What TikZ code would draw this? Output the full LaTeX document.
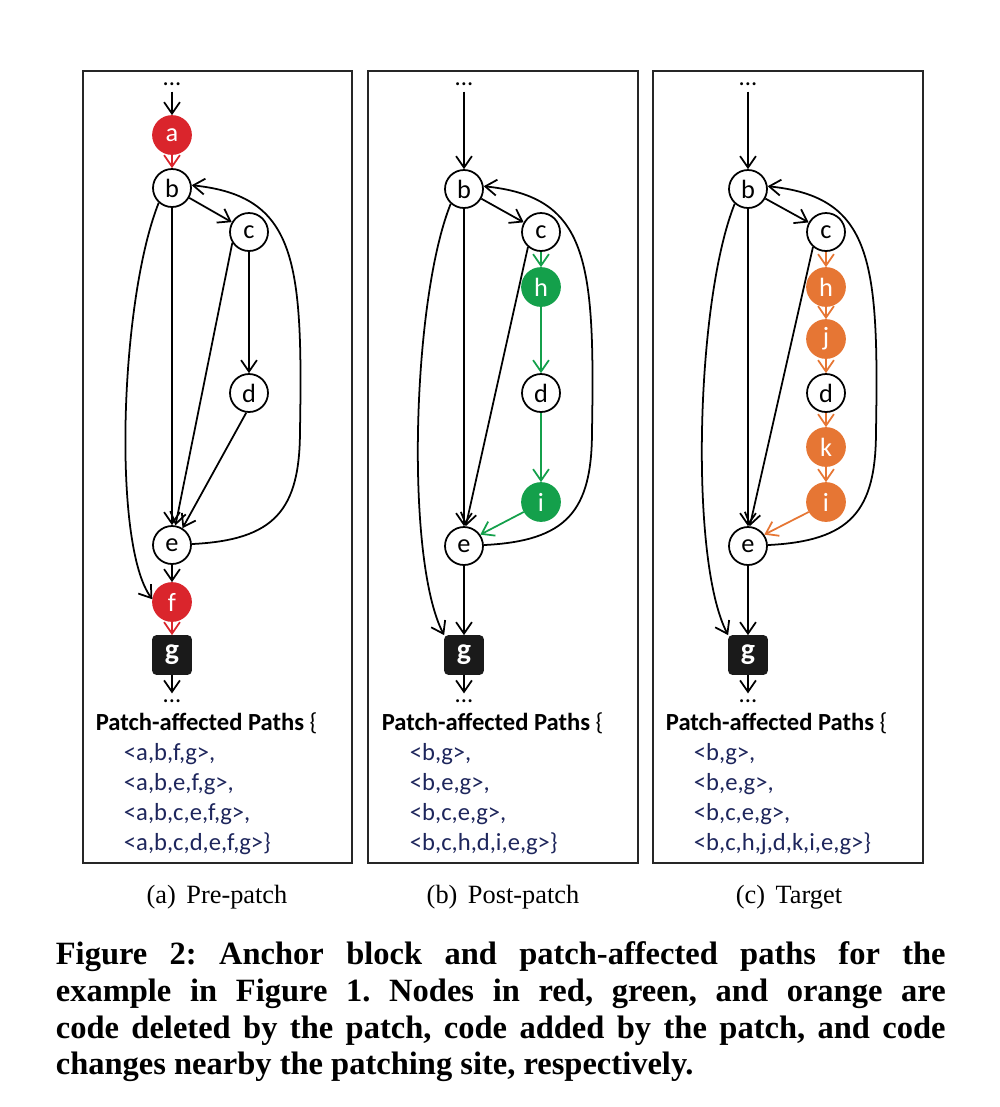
\documentclass[tikz,border=0pt]{standalone}
\usepackage{fontspec}
\setmainfont{Liberation Serif}
\newfontfamily\calfont{Carlito}
\usepackage{tikz}
\usetikzlibrary{arrows.meta}
\usepackage{xcolor}
\definecolor{delred}{RGB}{218,37,44}
\definecolor{addgreen}{RGB}{20,160,75}
\definecolor{chgorange}{RGB}{230,118,52}
\definecolor{pathblue}{RGB}{30,38,92}
\definecolor{gblock}{RGB}{26,26,26}

\begin{document}
\begin{tikzpicture}[
  x=0.02cm, y=-0.02cm,
  line width=1pt,
  >={Straight Barb[length=6.5pt,width=9pt]},
  vtx/.style={circle,draw,fill=white,minimum size=0.76cm,inner sep=0pt,font=\calfont\fontsize{15}{18}\selectfont},
  del/.style={vtx,draw=delred,fill=delred,text=white},
  add/.style={vtx,draw=addgreen,fill=addgreen,text=white},
  chg/.style={vtx,draw=chgorange,fill=chgorange,text=white},
  anchorblk/.style={rectangle,rounded corners=2pt,draw=gblock,fill=gblock,text=white,minimum size=0.76cm,inner sep=0pt,font=\calfont\bfseries\fontsize{17}{20}\selectfont},
  dots/.style={inner sep=3pt,font=\calfont\fontsize{14}{17}\selectfont},
  paths/.style={anchor=north west,align=left,inner sep=0pt,text=pathblue,font=\calfont\fontsize{14}{17}\selectfont},
  subcap/.style={font=\fontsize{15}{18}\selectfont},
  capline/.style={anchor=base west,inner sep=0pt,font=\bfseries\fontsize{18.5}{21}\selectfont\frenchspacing},
  frame/.style={draw=black!85,line width=0.8pt}
  ]
\useasboundingbox (0,0) rectangle (1000,1107);
\def\toprow{84}
\def\botrow{701}
\def\pathrow{712}
\def\subrow{897}
\def\ind{\hspace*{16pt}}
% (a) pre-patch
\draw[frame] (83,71) rectangle (352,863);
\node[dots] (top1) at (172,\toprow) {...};
\node[del] (a1) at (172,135) {a};                  % deleted
\node[vtx] (b1) at (172,188) {b};
\node[vtx] (c1) at (249,232) {c};
\node[vtx] (d1) at (249,393) {d};
\node[vtx] (e1) at (172,545) {e};
\node[del] (f1) at (172,602) {f};                  % deleted
\node[anchorblk] (g1) at (172,655) {g};            % anchor block
\node[dots] (bot1) at (172,\botrow) {...};
\draw[->] (top1) -- (a1);
\draw[->,delred] (a1) -- (b1);
\draw[->] (b1) -- (c1);
\draw[->] (b1) -- (e1);
\draw[->] (c1) -- (d1);
\draw[->] (c1.213) -- (e1.80);
\draw[->] (d1.262) -- (e1.58);
\draw[->] (b1.228) .. controls (120,300) and (112,545) .. (f1.172);
\draw[->] (e1) .. controls (275,540) and (300,510) .. (300,430) .. controls (303,260) and (296,196) .. (b1.8);
\draw[->] (e1) -- (f1);
\draw[->,delred] (f1) -- (g1);
\draw[->] (g1) -- (bot1);
\node[paths] (paths1) at (95,\pathrow) {{\color{black}\textbf{Patch-affected Paths} \{}\\
  \ind<a,b,f,g>,\\ \ind<a,b,e,f,g>,\\ \ind<a,b,c,e,f,g>,\\ \ind<a,b,c,d,e,f,g>\}};
\node[subcap] (sub1) at (217,\subrow) {(a)\hspace{0.4em}Pre-patch};
% (b) post-patch
\draw[frame] (368,71) rectangle (638,863);
\node[dots] (top2) at (464,\toprow) {...};
\node[vtx] (b2) at (464,189) {b};
\node[vtx] (c2) at (541,232) {c};
\node[add] (h2) at (541,287) {h};                  % added
\node[vtx] (d2) at (541,393) {d};
\node[add] (i2) at (541,502) {i};                  % added
\node[vtx] (e2) at (464,546) {e};
\node[anchorblk] (g2) at (464,655) {g};
\node[dots] (bot2) at (464,\botrow) {...};
\draw[->] (top2) -- (b2);
\draw[->] (b2) -- (c2);
\draw[->] (b2) -- (e2);
\draw[->] (c2.229) -- (e2.85);
\draw[->,addgreen] (c2) -- (h2);
\draw[->,addgreen] (h2) -- (d2);
\draw[->,addgreen] (d2) -- (i2);
\draw[->,addgreen] (i2.210) -- (e2.35);
\draw[->] (b2.228) .. controls (412,300) and (405,560) .. (g2.north west);
\draw[->] (e2) .. controls (567,541) and (592,511) .. (592,431) .. controls (595,260) and (588,197) .. (b2.8);
\draw[->] (e2) -- (g2);
\draw[->] (g2) -- (bot2);
\node[paths] (paths2) at (381,\pathrow) {{\color{black}\textbf{Patch-affected Paths} \{}\\
  \ind<b,g>,\\ \ind<b,e,g>,\\ \ind<b,c,e,g>,\\ \ind<b,c,h,d,i,e,g>\}};
\node[subcap] (sub2) at (503,\subrow) {(b)\hspace{0.4em}Post-patch};
% (c) target
\draw[frame] (653,71) rectangle (923,863);
\node[dots] (top3) at (748,\toprow) {...};
\node[vtx] (b3) at (748,189) {b};
\node[vtx] (c3) at (826,232) {c};
\node[chg] (h3) at (826,287) {h};                  % nearby changes
\node[chg] (j3) at (826,339) {j};
\node[vtx] (d3) at (826,393) {d};
\node[chg] (k3) at (826,447) {k};
\node[chg] (i3) at (826,502) {i};
\node[vtx] (e3) at (748,546) {e};
\node[anchorblk] (g3) at (748,655) {g};
\node[dots] (bot3) at (748,\botrow) {...};
\draw[->] (top3) -- (b3);
\draw[->] (b3) -- (c3);
\draw[->] (b3) -- (e3);
\draw[->] (c3.229) -- (e3.85);
\draw[->,chgorange] (c3) -- (h3);
\draw[->,chgorange] (h3) -- (j3);
\draw[->,chgorange] (j3) -- (d3);
\draw[->,chgorange] (d3) -- (k3);
\draw[->,chgorange] (k3) -- (i3);
\draw[->,chgorange] (i3.210) -- (e3.35);
\draw[->] (b3.228) .. controls (696,300) and (689,560) .. (g3.north west);
\draw[->] (e3) .. controls (851,541) and (876,511) .. (876,431) .. controls (879,260) and (872,197) .. (b3.8);
\draw[->] (e3) -- (g3);
\draw[->] (g3) -- (bot3);
\node[paths] (paths3) at (665,\pathrow) {{\color{black}\textbf{Patch-affected Paths} \{}\\
  \ind<b,g>,\\ \ind<b,e,g>,\\ \ind<b,c,e,g>,\\ \ind<b,c,h,j,d,k,i,e,g>\}};
\node[subcap] (sub3) at (789,\subrow) {(c)\hspace{0.4em}Target};
% caption
\node[capline] (cap1) at (55,964) {\makebox[17.8cm][s]{Figure 2: Anchor block and patch-affected paths for the}};
\node[capline] (cap2) at (55,1001) {\makebox[17.8cm][s]{example in Figure 1. Nodes in red, green, and orange are}};
\node[capline] (cap3) at (55,1038) {\makebox[17.8cm][s]{code deleted by the patch, code added by the patch, and code}};
\node[capline] (cap4) at (55,1074) {changes nearby the patching site, respectively.};
\end{tikzpicture}
\end{document}
